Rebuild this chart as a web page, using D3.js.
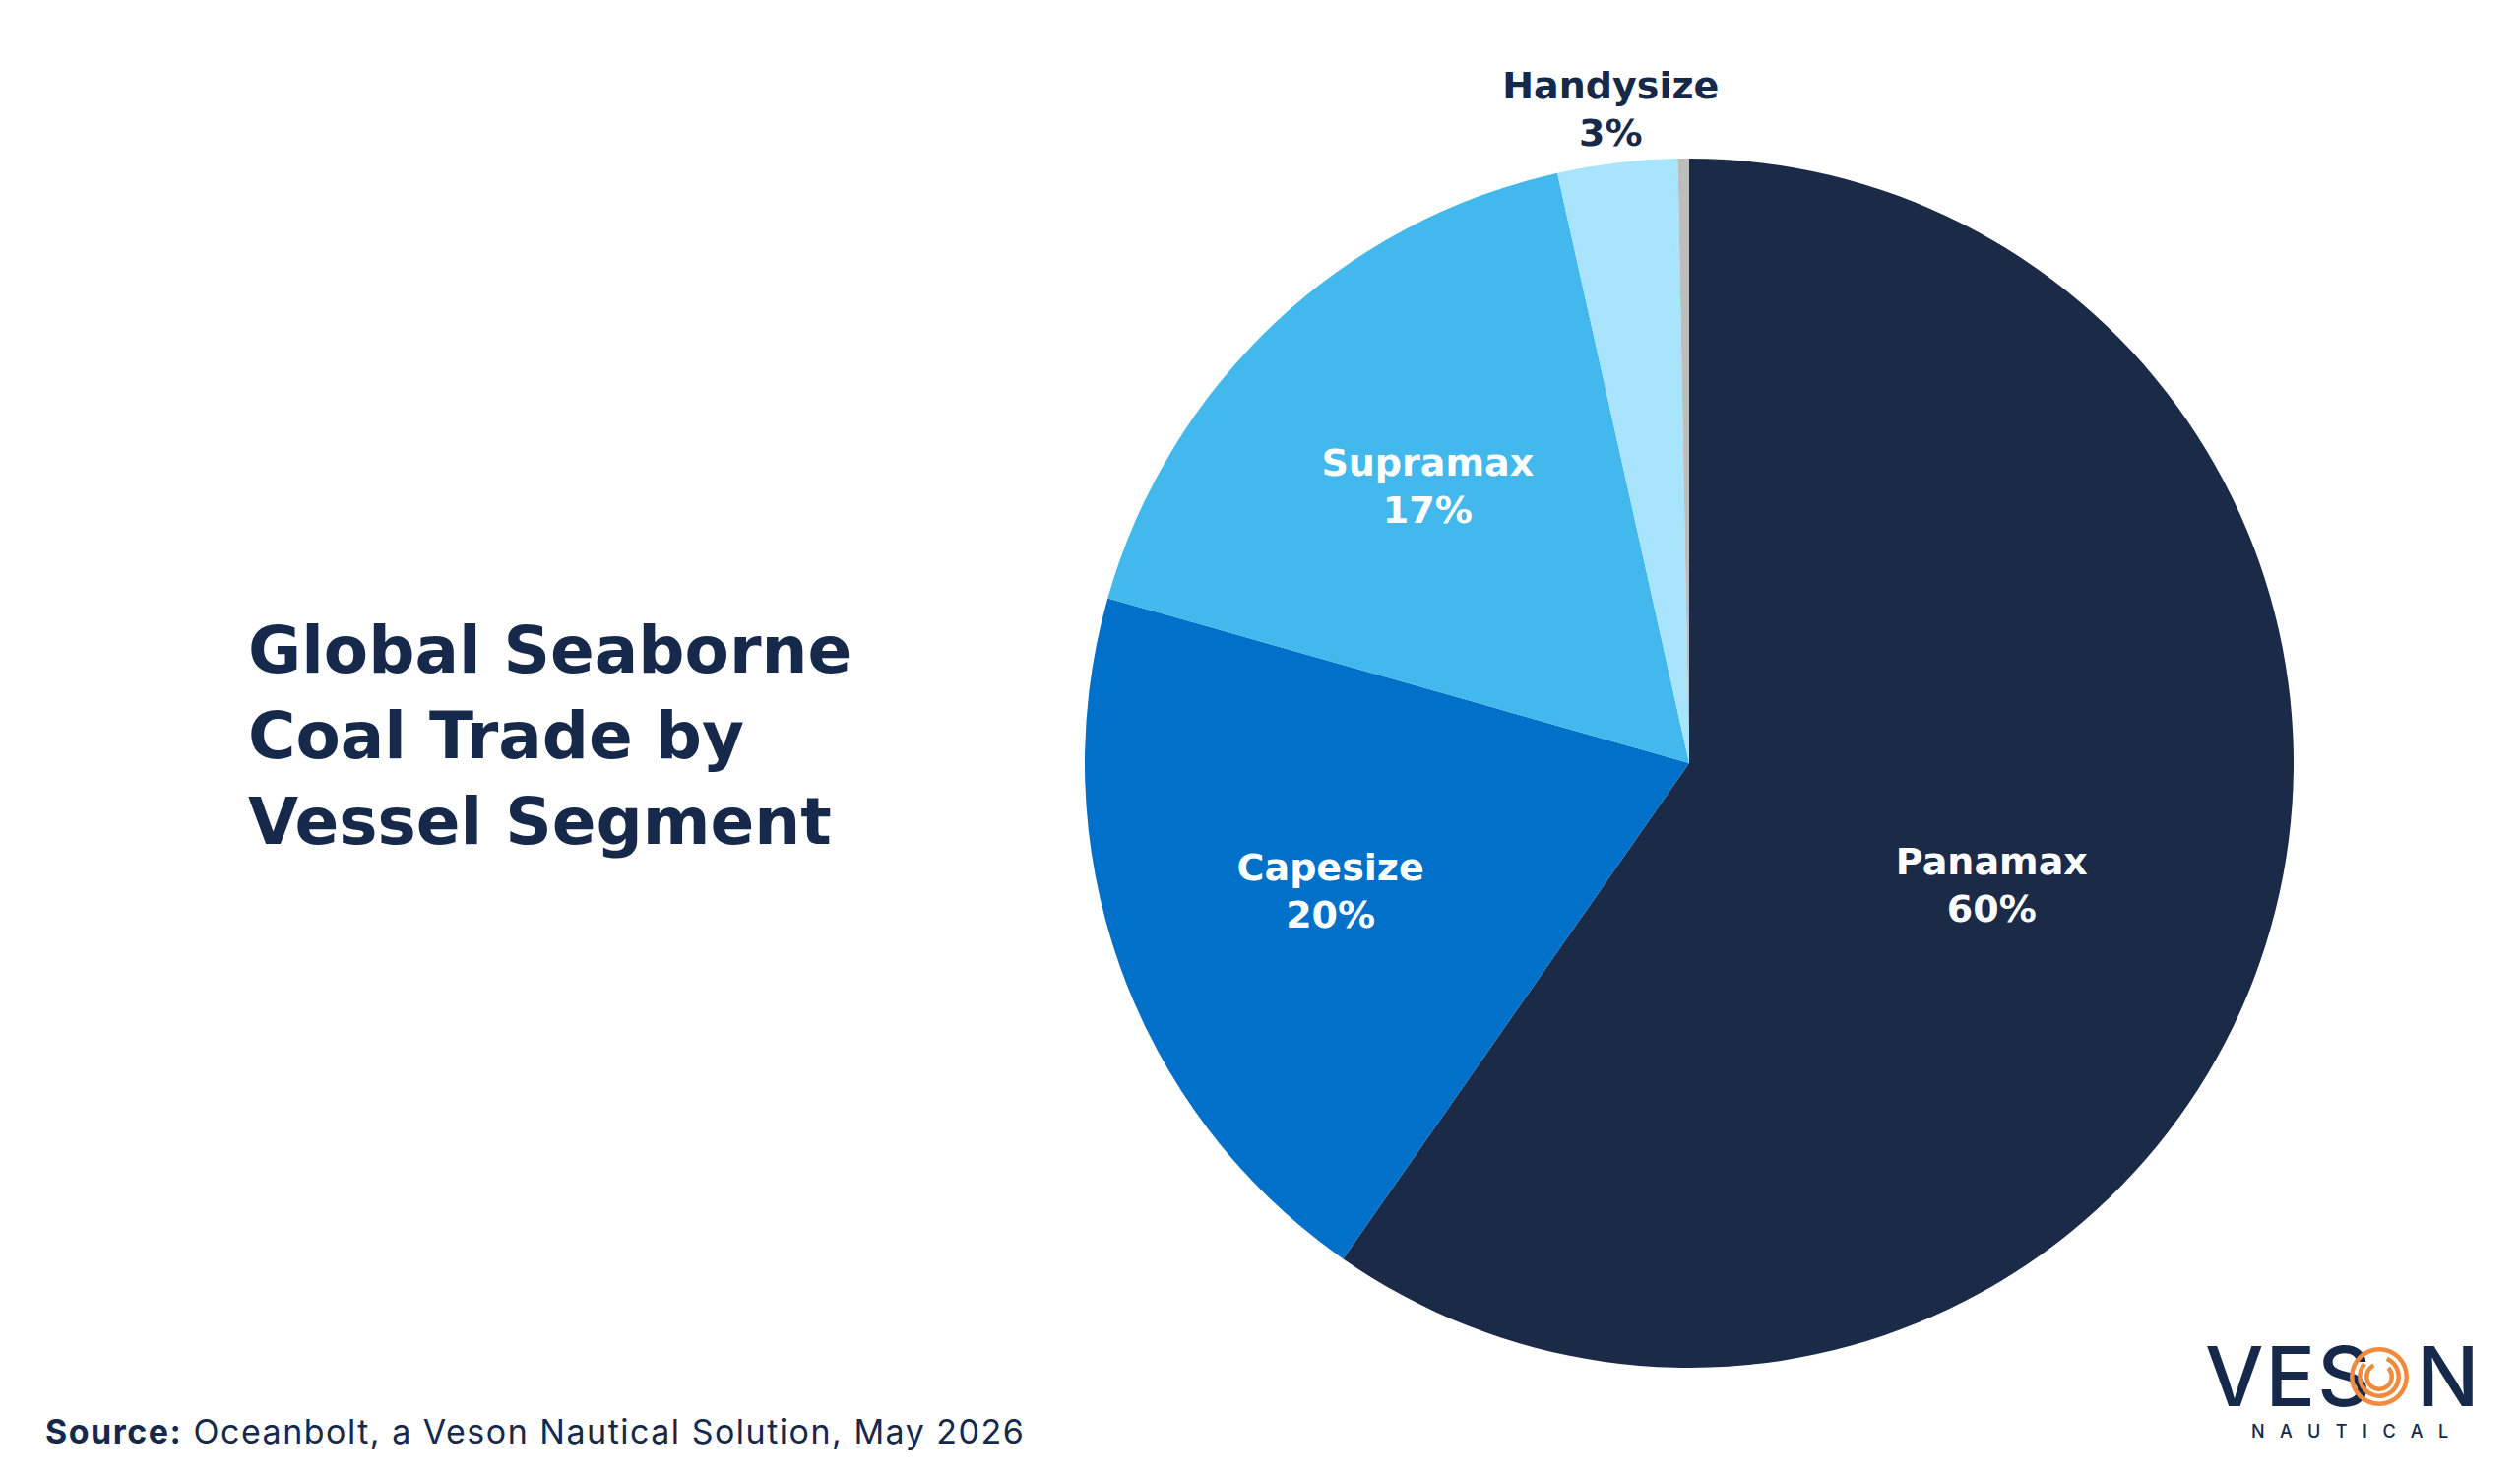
<html>
  <head>
    <title>Coal Trade by Vessel Segment</title>
    <meta charset="utf-8" />
    <script src="https://cdnjs.cloudflare.com/ajax/libs/d3/7.6.1/d3.min.js"></script>
    <style>
      body { margin: 0; background: #fff; }
      text { font-family: Inter, "Open Sans", sans-serif; }
      .bold { font-family: "DejaVu Sans", Inter, sans-serif; font-weight: 700; }
    </style>
  </head>
  <body>
    <svg width="2560" height="1502"></svg>
  </body>

  <script>
    // shares of seaborne coal trade
    const segments = ["Panamax", "Capesize", "Supramax", "Handysize", "Other"];
    const shares = [59.7, 19.7, 17.1, 3.2, 0.3];
    const shareLabels = ["60%", "20%", "17%", "3%", ""];
    const colors = ["#1a2a47", "#0070c8", "#42b8ec", "#a8e4fc", "#bdbdbd"];

    const navy = "#16294a";
    let svg = d3.select("svg");

    let cx = 1716, cy = 775, radius = 614;

    let data = segments.map((s, i) => ({ name: s, value: shares[i], label: shareLabels[i] }));

    let pie = d3.pie().sort(null).value((d) => d.value);
    let arc = d3.arc().innerRadius(0).outerRadius(radius);
    // big slice label sits closer to the middle
    let bigArc = d3.arc().innerRadius(radius * 0.54).outerRadius(radius * 0.54);
    let midArc = d3.arc().innerRadius(radius * 0.63).outerRadius(radius * 0.63);
    let outerArc = d3.arc().innerRadius(radius * 1.09).outerRadius(radius * 1.09);

    let color = d3.scaleOrdinal().domain(segments).range(colors);

    let g = svg.append("g").attr("transform", `translate(${cx},${cy})`);

    let arcs = pie(data);

    g.selectAll("path.slice")
      .data(arcs)
      .enter()
      .append("path")
      .attr("class", "slice")
      .attr("d", arc)
      .attr("fill", (d) => color(d.data.name));

    let span = (d) => d.endAngle - d.startAngle;

    // labels: small slices go outside
    let labels = g.selectAll("g.lbl")
      .data(arcs.filter((d) => d.data.label))
      .enter()
      .append("g")
      .attr("class", "lbl")
      .attr("transform", (d) => {
        let a = span(d);
        let p;
        if (a < 0.3) p = outerArc.centroid(d);
        else if (a > Math.PI) {
          // nudge the big one a little further round, like the original
          let m = (d.startAngle + d.endAngle) / 2 + 0.08;
          p = bigArc.centroid({ startAngle: m, endAngle: m });
        } else p = midArc.centroid(d);
        return `translate(${p[0]},${p[1]})`;
      });

    labels.each(function (d) {
      let t = d3.select(this)
        .append("text")
        .attr("class", "bold")
        .attr("text-anchor", "middle")
        .attr("font-size", 38)
        .attr("fill", span(d) < 0.3 ? navy : "#fff");
      t.append("tspan").attr("x", 0).attr("y", -11).text(d.data.name);
      t.append("tspan").attr("x", 0).attr("y", 37).text(d.data.label);
    });

    // title
    let title = svg.append("text")
      .attr("class", "bold")
      .attr("x", 252)
      .attr("font-size", 66)
      .attr("fill", navy);
    ["Global Seaborne", "Coal Trade by", "Vessel Segment"].forEach((l, i) => {
      title.append("tspan").attr("x", 252).attr("y", 683 + i * 87).text(l);
    });

    // source
    let src = svg.append("text")
      .attr("x", 46)
      .attr("y", 1466)
      .attr("font-size", 34)
      .attr("letter-spacing", 1.5)
      .attr("fill", navy);
    src.append("tspan").attr("font-weight", 700).text("Source:");
    src.append("tspan").text(" Oceanbolt, a Veson Nautical Solution, May 2026");

    // logo
    let logo = svg.append("g");
    logo.append("text")
      .attr("x", 2240)
      .attr("y", 1428)
      .attr("font-size", 84)
      .attr("font-weight", 500)
      .attr("fill", navy)
      .attr("letter-spacing", 2)
      .text("VES");
    logo.append("text")
      .attr("x", 2455)
      .attr("y", 1428)
      .attr("font-size", 84)
      .attr("font-weight", 500)
      .attr("fill", navy)
      .text("N");
    let oc = { x: 2417, y: 1398 };
    [30, 22, 15].forEach((r, i) => {
      logo.append("path")
        .attr("transform", `translate(${oc.x},${oc.y})`)
        .attr("d", d3.arc().innerRadius(r - 4.5).outerRadius(r).startAngle(0.4 * i).endAngle(0.4 * i + Math.PI * (i === 0 ? 2 : 1.6))())
        .attr("fill", "#f08a3c");
    });
    logo.append("text")
      .attr("x", 2287)
      .attr("y", 1460)
      .attr("font-size", 18)
      .attr("font-weight", 500)
      .attr("fill", navy)
      .attr("letter-spacing", 15.5)
      .text("NAUTICAL");
  </script>
</html>
